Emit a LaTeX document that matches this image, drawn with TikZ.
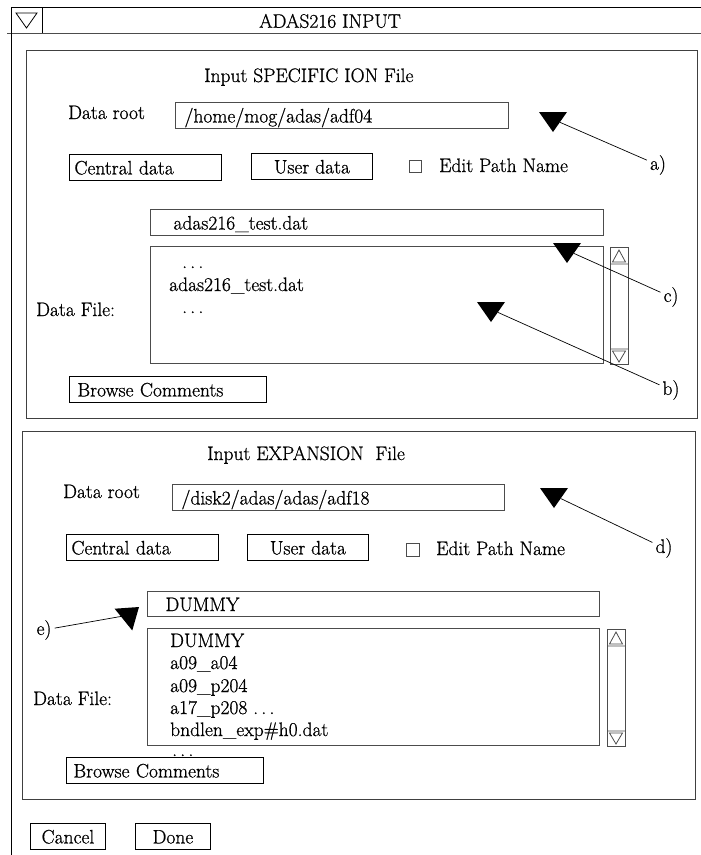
\documentclass[tikz,border=0pt]{standalone}
\usepackage{fontspec}
\setmainfont{Latin Modern Roman}[FakeBold=0.8]
\usetikzlibrary{shapes.geometric}

\begin{document}
\begin{tikzpicture}[x=1pt,y=-1pt,
    font=\fontsize{19.5}{23}\selectfont,
    panel/.style={draw=black!75,line width=1pt},
    field/.style={draw=black!70,line width=1pt,anchor=north west,align=left,inner ysep=0pt,minimum height=26pt,text height=16pt,text depth=2pt},
    button/.style={draw,line width=0.9pt,anchor=north west,inner sep=0pt,minimum height=26pt,text height=16pt,text depth=2pt},
    txt/.style={anchor=base west,inner sep=0pt},
    pointer/.style={isosceles triangle,isosceles triangle stretches,fill=black,inner sep=0pt,outer sep=0pt,minimum width=28pt,minimum height=20pt,anchor=apex},
    lbl/.style={inner sep=3pt}]
    \useasboundingbox (0,0) rectangle (701,855);

    % title bar
    \draw[line width=1pt] (11,7)--(701,7);
    \draw[black!70,line width=1pt] (7,33)--(701,33);
    \draw[line width=1pt] (11,7)--(11,855);
    \draw[line width=0.9pt] (42,7)--(42,33);
    \draw[line width=0.8pt] (16,13)--(37,13)--(26.5,28)--cycle;
    \node (title) at (330,21) {ADAS216 INPUT};

    % specific ion file
    \draw[panel] (26,50) rectangle (697,418);
    \node[txt] (head1) at (204,82) {Input SPECIFIC ION File};
    \node[txt] (rootlab1) at (68,119) {Data root};
    \node[field,text width=315pt,inner xsep=9pt] (root1) at (175,102) {/home/mog/adas/adf04};
    \node[button,text width=142pt,inner xsep=5pt,align=left] (central1) at (69,154) {Central data};
    \node[button,minimum width=121pt] (user1) at (251,153) {User data};
    \draw[black!70,line width=0.8pt] (409,160) rectangle (421,172);
    \node[txt] (edit1) at (439,172) {Edit Path Name};
    \node[field,text width=407pt,inner xsep=23pt] (file1) at (150,209) {adas216\_test.dat};
    \node[field,minimum width=453pt,minimum height=117pt] (list1) at (150,246) {};
    \node[txt] (dots1) at (182,268) {.\,.\,.};
    \node[txt] (item1) at (169,291) {adas216\_test.dat};
    \node[txt] (dots2) at (182,313) {.\,.\,.};
    \node[txt] (datalab1) at (36,316) {Data File:};
    \draw[black!70,line width=1pt] (610,247) rectangle (628,364);
    \draw[black!70,line width=0.8pt] (610,264)--(628,264) (612.5,262)--(625.5,262)--(619,250)--cycle;
    \draw[black!70,line width=0.8pt] (610,349)--(628,349) (612.5,351)--(625.5,351)--(619,362)--cycle;
    \node[button,text width=181pt,inner xsep=8pt,align=left] (browse1) at (69,376) {Browse Comments};

    \node[pointer,rotate=-90] (tria) at (553,132) {};
    \node[lbl] (laba) at (658,165) {a)};
    \draw[line width=0.7pt] (laba)--(tria);
    \node[pointer,rotate=-90] (tric) at (567,263) {};
    \node[lbl] (labc) at (671,297) {c)};
    \draw[line width=0.7pt] (labc)--(tric);
    \node[pointer,rotate=-90] (trib) at (491,322) {};
    \node[lbl] (labb) at (671,390) {b)};
    \draw[line width=0.7pt] (labb)--(trib);

    % expansion file
    \draw[panel] (22,431) rectangle (695,799);
    \node[txt] (head2) at (207,460) {Input EXPANSION\ \ File};
    \node[txt] (rootlab2) at (63,498) {Data root};
    \node[field,text width=314pt,inner xsep=9pt] (root2) at (172,484) {/disk2/adas/adas/adf18};
    \node[button,text width=142pt,inner xsep=5pt,align=left] (central2) at (66,534) {Central data};
    \node[button,minimum width=121pt] (user2) at (247,534) {User data};
    \draw[black!70,line width=0.8pt] (406,543) rectangle (419,556);
    \node[txt] (edit2) at (436,555) {Edit Path Name};
    \node[field,text width=416pt,inner xsep=18pt,minimum height=25pt] (file2) at (147,591) {DUMMY};
    \node[field,minimum width=452pt,minimum height=117pt] (list2) at (147,628) {};
    \node[txt] (item2) at (170,647) {DUMMY};
    \node[txt] (item3) at (170,669) {a09\_a04};
    \node[txt] (item4) at (170,692) {a09\_p204};
    \node[txt] (item5) at (170,714) {a17\_p208 .\,.\,.};
    \node[txt] (item6) at (170,736) {bndlen\_exp\#h0.dat};
    \node[txt] (dots3) at (172,756) {.\,.\,.};
    \node[txt] (datalab2) at (33,705) {Data File:};
    \draw[black!70,line width=1pt] (607,629) rectangle (625,746);
    \draw[black!70,line width=0.8pt] (607,646)--(625,646) (609.5,644)--(622.5,644)--(616,632)--cycle;
    \draw[black!70,line width=0.8pt] (607,731)--(625,731) (609.5,733)--(622.5,733)--(616,744)--cycle;
    \node[button,fill=white,text width=183pt,inner xsep=7pt,align=left] (browse2) at (66,757) {Browse Comments};

    \node[pointer,rotate=-90] (trid) at (554,508) {};
    \node[lbl] (labd) at (664,548) {d)};
    \draw[line width=0.7pt] (labd)--(trid);
    \node[pointer,rotate=39] (trie) at (139,607) {};
    \node[lbl] (labe) at (44,630) {e)};
    \draw[line width=0.7pt] (labe)--(trie);

    % buttons
    \node[button,minimum width=75pt] (cancel) at (30,823) {Cancel};
    \node[button,minimum width=75pt] (done) at (135,823) {Done};
\end{tikzpicture}
\end{document}
